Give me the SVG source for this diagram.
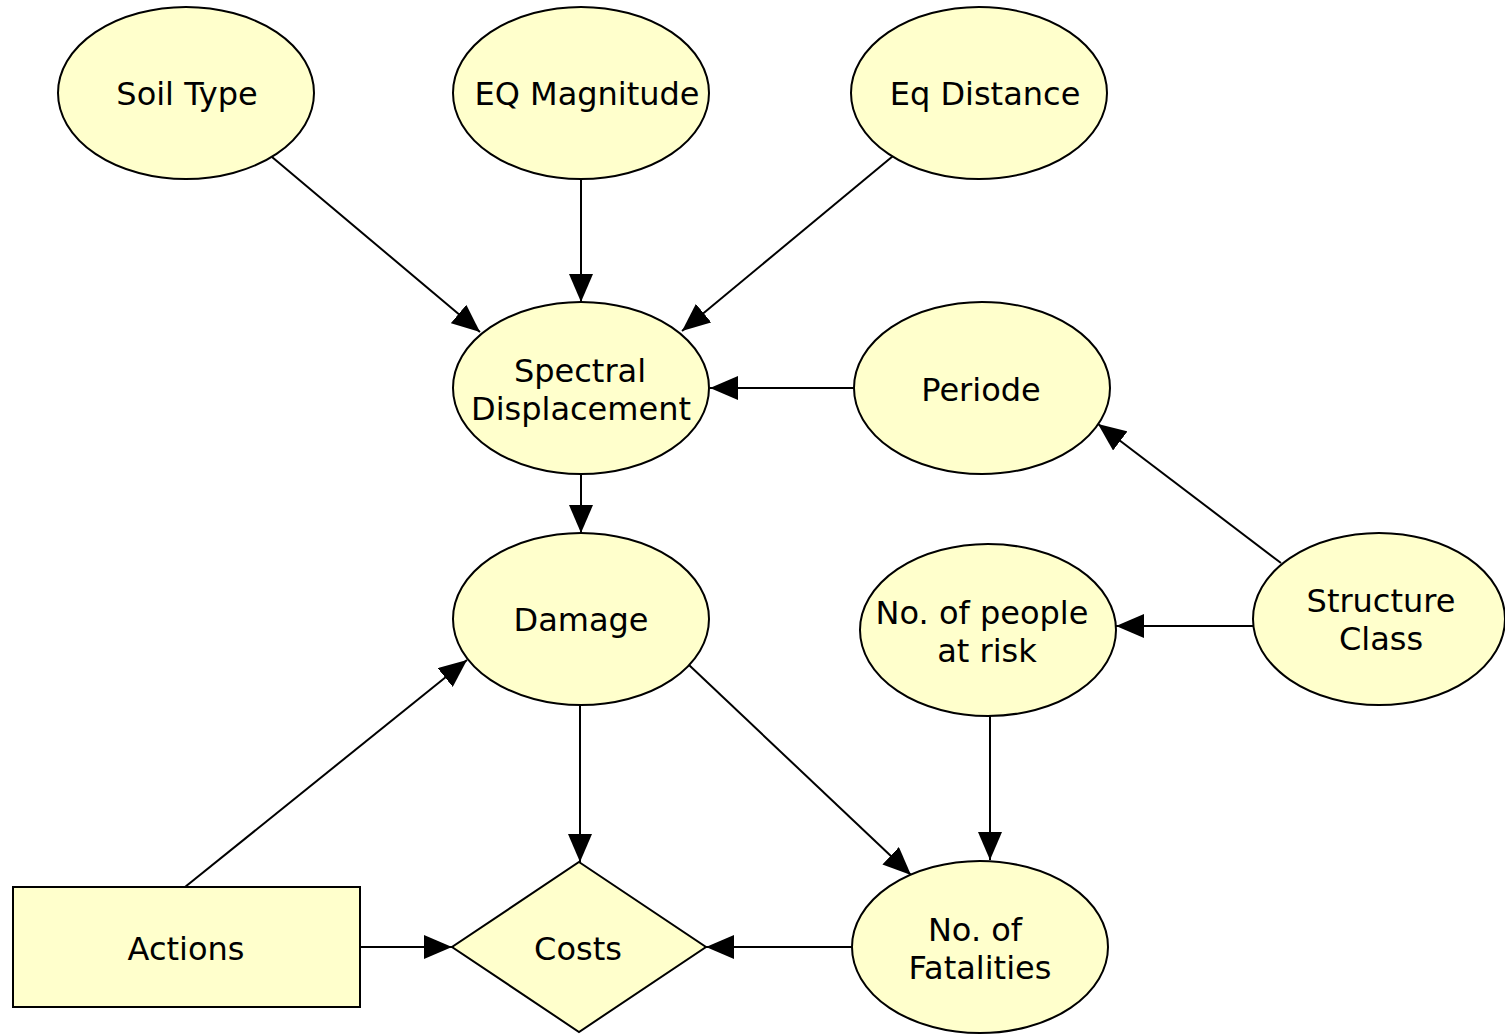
<svg xmlns="http://www.w3.org/2000/svg" width="1505" height="1034" viewBox="0 0 1505 1034">
  <style>
    .node { fill: #FFFFCC; stroke: #000; stroke-width: 2; }
    .label { font-family: "DejaVu Sans", Verdana, sans-serif; font-size: 32px; fill: #000; text-anchor: middle; }
    .edge { stroke: #000; stroke-width: 2; fill: none; marker-end: url(#arrow); }
  </style>
  <defs>
    <marker id="arrow" markerUnits="userSpaceOnUse" markerWidth="28" markerHeight="24" refX="28" refY="12" orient="auto">
      <path d="M0,0 L28,12 L0,24 Z" fill="#000"/>
    </marker>
  </defs>
  <rect width="1505" height="1034" fill="#fff"/>

  <g id="connectors">
    <line class="edge" x1="272" y1="157" x2="480" y2="332"/>
    <line class="edge" x1="581" y1="179" x2="581" y2="302"/>
    <line class="edge" x1="893" y1="156" x2="682" y2="331"/>
    <line class="edge" x1="854" y1="388" x2="710" y2="388"/>
    <line class="edge" x1="581" y1="474" x2="581" y2="533"/>
    <line class="edge" x1="1281" y1="563" x2="1098" y2="424"/>
    <line class="edge" x1="1253" y1="626" x2="1116" y2="626"/>
    <line class="edge" x1="185" y1="887" x2="467" y2="660"/>
    <line class="edge" x1="580" y1="705" x2="580" y2="862"/>
    <line class="edge" x1="689" y1="665" x2="911" y2="875"/>
    <line class="edge" x1="990" y1="716" x2="990" y2="860"/>
    <line class="edge" x1="360" y1="947" x2="452" y2="947"/>
    <line class="edge" x1="852" y1="947" x2="706" y2="947"/>
  </g>

  <g id="soil-type">
    <ellipse class="node" cx="186" cy="93" rx="128" ry="86"/>
    <text class="label" x="187" y="105">Soil Type</text>
  </g>
  <g id="eq-magnitude">
    <ellipse class="node" cx="581" cy="93" rx="128" ry="86"/>
    <text class="label" x="587" y="105">EQ Magnitude</text>
  </g>
  <g id="eq-distance">
    <ellipse class="node" cx="979" cy="93" rx="128" ry="86"/>
    <text class="label" x="985" y="105">Eq Distance</text>
  </g>
  <g id="spectral-displacement">
    <ellipse class="node" cx="581" cy="388" rx="128" ry="86"/>
    <text class="label" x="580" y="382">Spectral</text>
    <text class="label" x="581" y="420">Displacement</text>
  </g>
  <g id="periode">
    <ellipse class="node" cx="982" cy="388" rx="128" ry="86"/>
    <text class="label" x="981" y="401">Periode</text>
  </g>
  <g id="damage">
    <ellipse class="node" cx="581" cy="619" rx="128" ry="86"/>
    <text class="label" x="581" y="631">Damage</text>
  </g>
  <g id="people-at-risk">
    <ellipse class="node" cx="988" cy="630" rx="128" ry="86"/>
    <text class="label" x="982" y="624">No. of people</text>
    <text class="label" x="987" y="662">at risk</text>
  </g>
  <g id="structure-class">
    <ellipse class="node" cx="1379" cy="619" rx="126" ry="86"/>
    <text class="label" x="1381" y="612">Structure</text>
    <text class="label" x="1381" y="650">Class</text>
  </g>
  <g id="fatalities">
    <ellipse class="node" cx="980" cy="947" rx="128" ry="86"/>
    <text class="label" x="975" y="941">No. of</text>
    <text class="label" x="980" y="979">Fatalities</text>
  </g>
  <g id="actions">
    <rect class="node" x="13" y="887" width="347" height="120"/>
    <text class="label" x="186" y="960">Actions</text>
  </g>
  <g id="costs">
    <polygon class="node" points="579,862 706,947 579,1032 452,947"/>
    <text class="label" x="578" y="960">Costs</text>
  </g>
</svg>
